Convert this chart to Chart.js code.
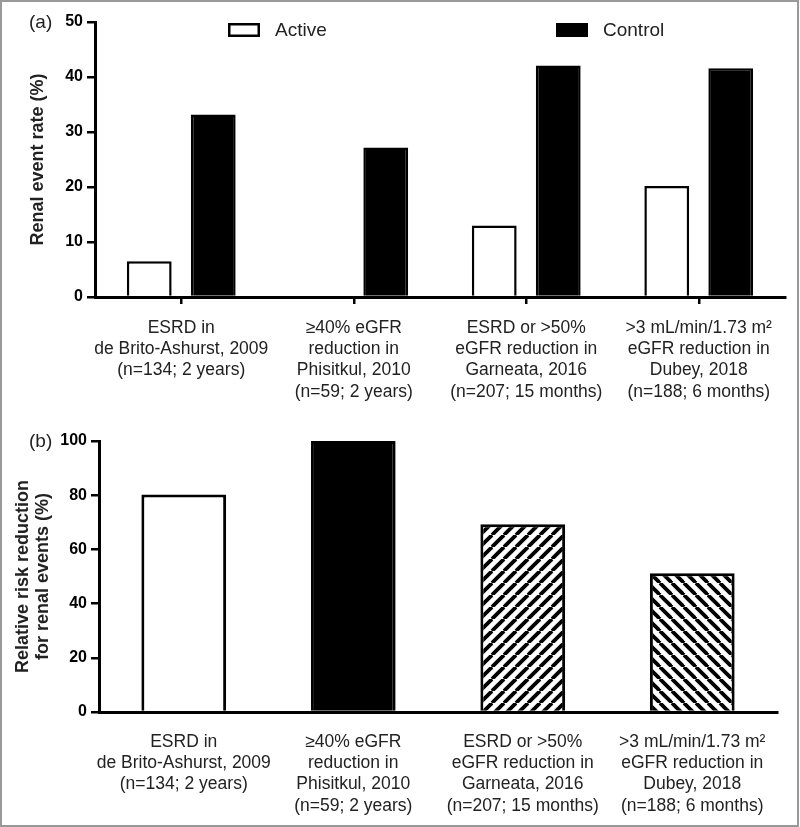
<!DOCTYPE html>
<html>
<head>
<meta charset="utf-8">
<script src="https://cdn.jsdelivr.net/npm/chart.js@4.4.0/dist/chart.umd.min.js"></script>
<style>
  html, body { margin: 0; padding: 0; background: #fff; }
  #wrap { position: relative; width: 800px; height: 827px; }
  #wrap canvas { position: absolute; left: 0; }
  #chart-a { top: 0; }
  #chart-b { top: 415px; }
  #frame { position: absolute; left: 0; top: 0; width: 799px; height: 827px; box-sizing: border-box; border: 2px solid #999; pointer-events: none; }
</style>
</head>
<body>
<div id="wrap">
  <canvas id="chart-a" width="800" height="415"></canvas>
  <canvas id="chart-b" width="800" height="412"></canvas>
  <div id="frame"></div>
</div>
<script>
'use strict';

// trial outcome labels (shared by both panels)
var categories = [
    ['ESRD in', 'de Brito-Ashurst, 2009', '(n=134; 2 years)'],
    ['\u226540% eGFR', 'reduction in', 'Phisitkul, 2010', '(n=59; 2 years)'],
    ['ESRD or >50%', 'eGFR reduction in', 'Garneata, 2016', '(n=207; 15 months)'],
    ['>3 mL/min/1.73 m\u00B2', 'eGFR reduction in', 'Dubey, 2018', '(n=188; 6 months)']
];

// panel (a): renal event rate (%)
var active_rate = [6.5, 0, 13.0, 20.2];
var control_rate = [33.2, 27.2, 42.1, 41.6];

// panel (b): relative risk reduction (%)
var risk_reduction = [80.3, 100, 69.3, 51.2];

var FONT = "'Liberation Sans', Arial, Helvetica, sans-serif";

// hatch fill for the bars of panel (b)
function stripes(ctx, dir) {
    var c = document.createElement('canvas');
    c.width = 12;
    c.height = 12;
    var g = c.getContext('2d');
    g.fillStyle = '#fff';
    g.fillRect(0, 0, 12, 12);
    g.strokeStyle = '#000';
    g.lineWidth = 3.8;
    [-12, 0, 12].forEach(function(o) {
        g.beginPath();
        if (dir === '/') {
            g.moveTo(o, 12);
            g.lineTo(o + 12, 0);
        } else {
            g.moveTo(o, 0);
            g.lineTo(o + 12, 12);
        }
        g.stroke();
    });
    return ctx.createPattern(c, 'repeat');
}

// "(a)" / "(b)" tag next to the top of the y axis
var panel_tag = {
    id: 'panel_tag',
    afterDraw: function(chart, args, opts) {
        var ctx = chart.ctx;
        ctx.save();
        ctx.font = '19px ' + FONT;
        ctx.fillStyle = '#222';
        ctx.textBaseline = 'middle';
        ctx.fillText(opts.text, 29, chart.chartArea.top + 1);
        ctx.restore();
    }
};

// boxed legend spread across the top of panel (a)
var box_legend = {
    id: 'box_legend',
    afterDraw: function(chart, args, opts) {
        if (!opts.x) return;
        var ctx = chart.ctx;
        var y = chart.chartArea.top + 8;
        ctx.save();
        chart.data.datasets.forEach(function(ds, i) {
            var x = opts.x[i];
            ctx.fillStyle = ds.backgroundColor;
            ctx.fillRect(x, y - 7, 32, 14);
            ctx.lineWidth = 2.5;
            ctx.strokeStyle = '#000';
            ctx.strokeRect(x + 1.25, y - 5.75, 29.5, 11.5);
            ctx.fillStyle = '#222';
            ctx.font = '19px ' + FONT;
            ctx.textBaseline = 'middle';
            ctx.fillText(ds.label, x + 47, y + 1);
        });
        ctx.restore();
    }
};

function y_axis(max, step, title, title_pad, width) {
    return {
        min: 0,
        max: max,
        ticks: {stepSize: step, color: '#000', padding: 4, font: {family: FONT, size: 16, weight: 'bold'}},
        grid: {display: true, drawOnChartArea: false, drawTicks: true, tickLength: 8, color: '#000', lineWidth: 2.5},
        border: {display: true, color: '#000', width: 3, z: 1},
        title: {
            display: true,
            text: title,
            color: '#222',
            font: {family: FONT, size: 18, weight: 'bold', lineHeight: 1.1},
            padding: {top: title_pad, bottom: 0}
        },
        afterFit: function(s) { s.width = width; }
    };
}

function x_axis(ticks_on, pad, height) {
    return {
        grid: {display: ticks_on, drawOnChartArea: false, drawTicks: ticks_on, tickLength: 7, offset: false, color: '#000', lineWidth: 2.5},
        border: {display: true, color: '#000', width: 3, z: 1},
        ticks: {color: '#222', padding: pad, maxRotation: 0, autoSkip: false, font: {family: FONT, size: 17.5, lineHeight: 1.22}},
        afterFit: function(s) { s.height = height; }
    };
}

new Chart(document.getElementById('chart-a'), {
    type: 'bar',
    data: {
        labels: categories,
        datasets: [
            {label: 'Active', data: active_rate, backgroundColor: '#fff', borderColor: '#000', borderWidth: 2.5},
            {label: 'Control', data: control_rate, backgroundColor: '#000', borderColor: '#000', borderWidth: 2.5}
        ]
    },
    options: {
        responsive: false,
        animation: false,
        events: [],
        categoryPercentage: 0.742,
        barPercentage: 0.70,
        layout: {padding: {top: 22, right: 15, left: 0, bottom: 0}},
        scales: {
            x: x_axis(true, 13, 118),
            y: y_axis(50, 10, 'Renal event rate (%)', 28, 95)
        },
        plugins: {
            legend: {display: false},
            tooltip: {enabled: false},
            panel_tag: {text: '(a)'},
            box_legend: {x: [228, 556]}
        }
    },
    plugins: [panel_tag, box_legend]
});

var ctx_b = document.getElementById('chart-b').getContext('2d');

new Chart(ctx_b, {
    type: 'bar',
    data: {
        labels: categories,
        datasets: [{
            label: 'Relative risk reduction',
            data: risk_reduction,
            backgroundColor: ['#fff', '#000', stripes(ctx_b, '/'), stripes(ctx_b, '\\')],
            borderColor: '#000',
            borderWidth: 3
        }]
    },
    options: {
        responsive: false,
        animation: false,
        events: [],
        categoryPercentage: 0.5,
        barPercentage: 1,
        layout: {padding: {top: 26, right: 23, left: 0, bottom: 0}},
        scales: {
            x: x_axis(false, 19, 115),
            y: y_axis(100, 20, ['Relative risk reduction', 'for renal events (%)'], 13, 99)
        },
        plugins: {
            legend: {display: false},
            tooltip: {enabled: false},
            panel_tag: {text: '(b)'}
        }
    },
    plugins: [panel_tag, box_legend]
});
</script>
</body>
</html>
